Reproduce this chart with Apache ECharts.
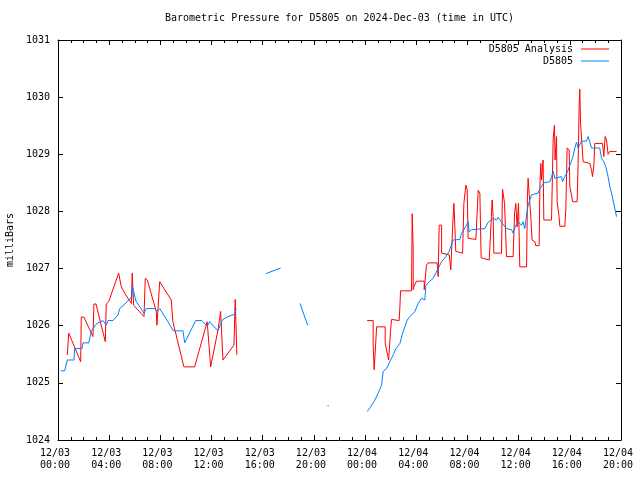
<!DOCTYPE html>
<html>
<head>
<meta charset="utf-8">
<script src="https://cdn.jsdelivr.net/npm/echarts@6/dist/echarts.min.js"></script>
<style>html,body{margin:0;padding:0;background:#fff}#c{width:640px;height:480px}</style>
</head>
<body>
<div id="c"></div>
<script>
// hours since 2024-12-03 00:00 UTC
const xTickHours = [0, 4, 8, 12, 16, 20, 24, 28, 32, 36, 40, 44];
const yTicks = [1024, 1025, 1026, 1027, 1028, 1029, 1030, 1031];

const obsHours = [
  0.21,0.52,0.73,1.25,1.30,1.88,1.95,2.40,2.60,2.95,3.13,3.52,3.77,3.91,4.30,4.69,4.82,5.23,5.78,5.80,6.09,6.72,6.90,7.55,7.76,7.95,8.59,9.01,9.77,9.90,10.76,11.25,11.66,11.85,12.50,12.84,13.28,13.80,13.93,
  14.5,
  16.23,17.40,
  18.0,
  18.91,19.51,
  20.0,
  21.06,21.16,
  22.0,
  24.16,24.43,24.77,25.02,25.29,25.41,25.68,25.99,26.20,26.41,26.72,26.93,27.11,27.29,27.63,27.76,27.89,28.15,28.41,28.67,28.75,29.06,29.32,29.71,29.98,30.31,30.57,30.88,31.41,31.54,31.93,32.05,32.13,32.32,32.45,33.36,33.62,34.01,34.27,34.40,34.66,35.05,35.45,35.57,35.78,35.96,36.23,36.35,36.48,36.62,36.74,37.01,37.13,37.52,37.66,37.97,38.44,38.57,38.70,38.83,38.96,39.35,39.43,39.61,39.87,40.00,40.21,40.39,40.52,40.65,40.78,40.91,41.30,41.43,41.56,41.70,42.34,42.48,42.66,42.81,42.99,43.13,43.26,43.38,43.52,43.65
];
const obsValues = [
  1025.21,1025.21,1025.40,1025.40,1025.60,1025.60,1025.70,1025.70,1025.90,1026.02,1026.05,1026.09,1026.01,1026.09,1026.09,1026.19,1026.30,1026.38,1026.51,1026.70,1026.43,1026.22,1026.30,1026.30,1026.25,1026.30,1026.07,1025.91,1025.91,1025.70,1026.09,1026.09,1025.99,1026.07,1025.91,1026.10,1026.16,1026.20,1026.30,
  null,
  1026.91,1027.01,
  null,
  1026.39,1026.01,
  null,
  1024.60,1024.60,
  null,
  1024.50,1024.58,1024.70,1024.82,1024.96,1025.20,1025.25,1025.40,1025.49,1025.60,1025.69,1025.87,1025.98,1026.10,1026.19,1026.16,1026.25,1026.39,1026.48,1026.45,1026.70,1026.78,1026.83,1027.00,1027.12,1027.21,1027.30,1027.50,1027.51,1027.62,1027.76,1027.82,1027.64,1027.68,1027.70,1027.70,1027.81,1027.88,1027.85,1027.90,1027.81,1027.70,1027.68,1027.62,1027.76,1027.81,1027.76,1027.82,1027.70,1027.94,1028.11,1028.29,1028.31,1028.32,1028.40,1028.50,1028.52,1028.61,1028.70,1028.58,1028.61,1028.61,1028.52,1028.61,1028.72,1028.81,1028.93,1029.11,1029.21,1029.11,1029.08,1029.23,1029.23,1029.31,1029.28,1029.11,1029.11,1028.93,1028.87,1028.78,1028.61,1028.43,1028.32,1028.20,1028.05,1027.91
];

const anaHours = [
  0.73,0.84,0.99,1.77,1.82,2.03,2.73,2.81,2.97,3.70,3.77,3.96,4.74,4.95,5.21,5.73,5.80,5.91,6.72,6.82,6.98,7.68,7.73,7.95,8.85,8.98,9.84,10.68,11.66,11.93,12.50,12.71,12.89,13.75,13.85,13.98,
  18.0,
  24.16,24.63,24.63,24.71,24.82,24.90,25.57,25.57,25.84,25.99,25.99,26.07,26.66,26.72,26.77,27.63,27.68,27.76,27.76,27.81,28.02,28.62,28.62,28.80,28.93,29.63,29.71,29.79,29.98,29.98,30.57,30.70,30.84,30.94,31.02,31.09,31.62,31.72,31.88,31.98,32.05,32.66,32.84,32.97,33.07,33.70,33.80,33.93,34.01,34.06,34.66,34.74,34.90,35.05,35.57,35.68,35.78,35.88,35.99,36.09,36.62,36.69,36.74,36.88,36.95,37.05,37.27,37.34,37.60,37.66,37.73,37.79,37.91,37.97,38.57,38.70,38.80,38.85,38.96,39.01,39.16,39.22,39.61,39.69,39.79,39.95,40.00,40.13,40.21,40.57,40.65,40.73,40.78,40.84,40.99,41.04,41.56,41.70,41.77,41.88,41.95,42.55,42.66,42.76,42.87,42.99,43.13,43.65
];
const anaValues = [
  1025.49,1025.87,1025.87,1025.37,1026.15,1026.15,1025.81,1026.38,1026.38,1025.72,1026.38,1026.42,1026.92,1026.68,1026.57,1026.39,1026.92,1026.36,1026.16,1026.83,1026.80,1026.25,1026.01,1026.77,1026.45,1026.07,1025.28,1025.28,1026.07,1025.28,1025.92,1026.25,1025.40,1025.66,1026.46,1025.49,
  null,
  1026.09,1026.09,1025.66,1025.23,1025.66,1025.98,1025.98,1025.69,1025.40,1025.40,1025.92,1026.11,1026.09,1026.33,1026.61,1026.61,1027.96,1027.33,1026.63,1026.68,1026.78,1026.78,1026.63,1027.06,1027.10,1027.10,1026.86,1027.76,1027.76,1027.27,1027.24,1026.98,1027.73,1028.14,1027.71,1027.30,1027.27,1028.14,1028.46,1028.38,1027.53,1027.51,1028.37,1028.32,1027.19,1027.15,1027.59,1028.20,1027.91,1027.27,1027.27,1028.39,1028.14,1027.21,1027.21,1027.97,1028.14,1027.73,1028.14,1027.03,1027.03,1028.26,1028.58,1028.55,1027.91,1027.50,1027.47,1027.40,1027.40,1028.43,1028.84,1028.55,1028.90,1027.85,1027.85,1029.28,1029.51,1028.90,1029.31,1028.17,1027.91,1027.74,1027.74,1028.05,1029.11,1029.08,1028.43,1028.29,1028.17,1028.17,1028.84,1029.86,1030.14,1029.54,1029.54,1028.87,1028.84,1028.72,1028.61,1028.81,1029.19,1029.19,1028.96,1029.31,1029.25,1029.00,1029.05,1029.05
];

function pairs(xs, ys) {
  return xs.map((x, i) => [x, ys[i] === null ? '-' : ys[i]]);
}

const FONT = 'DejaVu Sans Mono';
const FS = 10;
const black = '#000';

function fmtTime(h) {
  const day = 3 + Math.floor(h / 24);
  const hh = h % 24;
  return '12/' + String(day).padStart(2, '0') + '\n' + String(hh).padStart(2, '0') + ':00';
}

const xBase = {
  type: 'value',
  min: xTickHours[0],
  max: xTickHours[xTickHours.length - 1],
  interval: 4,
  splitLine: { show: false },
  axisLine: { show: true, onZero: false, lineStyle: { color: black, width: 1 } },
  axisTick: { show: true, inside: true, length: 5, lineStyle: { color: black } },
  minorTick: { show: true, splitNumber: 4, length: 3, lineStyle: { color: black } }
};
const yBase = {
  type: 'value',
  min: yTicks[0],
  max: yTicks[yTicks.length - 1],
  interval: 1,
  splitLine: { show: false },
  axisLine: { show: true, onZero: false, lineStyle: { color: black, width: 1 } },
  axisTick: { show: true, inside: true, length: 5, lineStyle: { color: black } }
};

const chart = echarts.init(document.getElementById('c'), null, { renderer: 'canvas' });
chart.setOption({
  animation: false,
  backgroundColor: '#fff',
  title: {
    text: 'Barometric Pressure for D5805 on 2024-Dec-03 (time in UTC)',
    left: 339.5, textAlign: 'center', top: 13, padding: 0,
    textStyle: { fontFamily: FONT, fontSize: FS, fontWeight: 'normal', color: black }
  },
  legend: [
    {
      data: ['D5805 Analysis'], right: 31, top: 44, padding: 0, align: 'right',
      itemWidth: 28, itemHeight: 1, icon: 'rect',
      textStyle: { fontFamily: FONT, fontSize: FS, color: black, padding: [0, 3, 0, 0] }
    },
    {
      data: ['D5805'], right: 31, top: 56, padding: 0, align: 'right',
      itemWidth: 28, itemHeight: 1, icon: 'rect',
      textStyle: { fontFamily: FONT, fontSize: FS, color: black, padding: [0, 3, 0, 0] }
    }
  ],
  grid: { left: 58, right: 19, top: 40, bottom: 40, containLabel: false, outerBoundsMode: 'none' },
  xAxis: [
    Object.assign({}, xBase, {
      position: 'bottom',
      axisLabel: {
        show: true, margin: 7, fontFamily: FONT, fontSize: FS, color: black, lineHeight: 12,
        padding: [0, 6, 0, 0], hideOverlap: false,
        formatter: v => fmtTime(v)
      }
    }),
    Object.assign({}, xBase, { position: 'top', axisLabel: { show: false } })
  ],
  yAxis: [
    Object.assign({}, yBase, {
      position: 'left',
      name: 'milliBars', nameLocation: 'middle', nameRotate: 90, nameGap: 41,
      nameTextStyle: { fontFamily: FONT, fontSize: FS, color: black },
      axisLabel: { show: true, margin: 8, fontFamily: FONT, fontSize: FS, color: black, formatter: v => String(v) }
    }),
    Object.assign({}, yBase, { position: 'right', axisLabel: { show: false } })
  ],
  series: [
    {
      name: 'D5805 Analysis', type: 'line', xAxisIndex: 0, yAxisIndex: 0,
      data: pairs(anaHours, anaValues), showSymbol: false, connectNulls: false,
      color: '#ff0000', lineStyle: { color: '#ff0000', width: 1 }, z: 2
    },
    {
      name: 'D5805', type: 'line', xAxisIndex: 0, yAxisIndex: 0,
      data: pairs(obsHours, obsValues), showSymbol: false, connectNulls: false,
      color: '#0080ff', lineStyle: { color: '#0080ff', width: 1 }, z: 3
    }
  ]
});
</script>
</body>
</html>
